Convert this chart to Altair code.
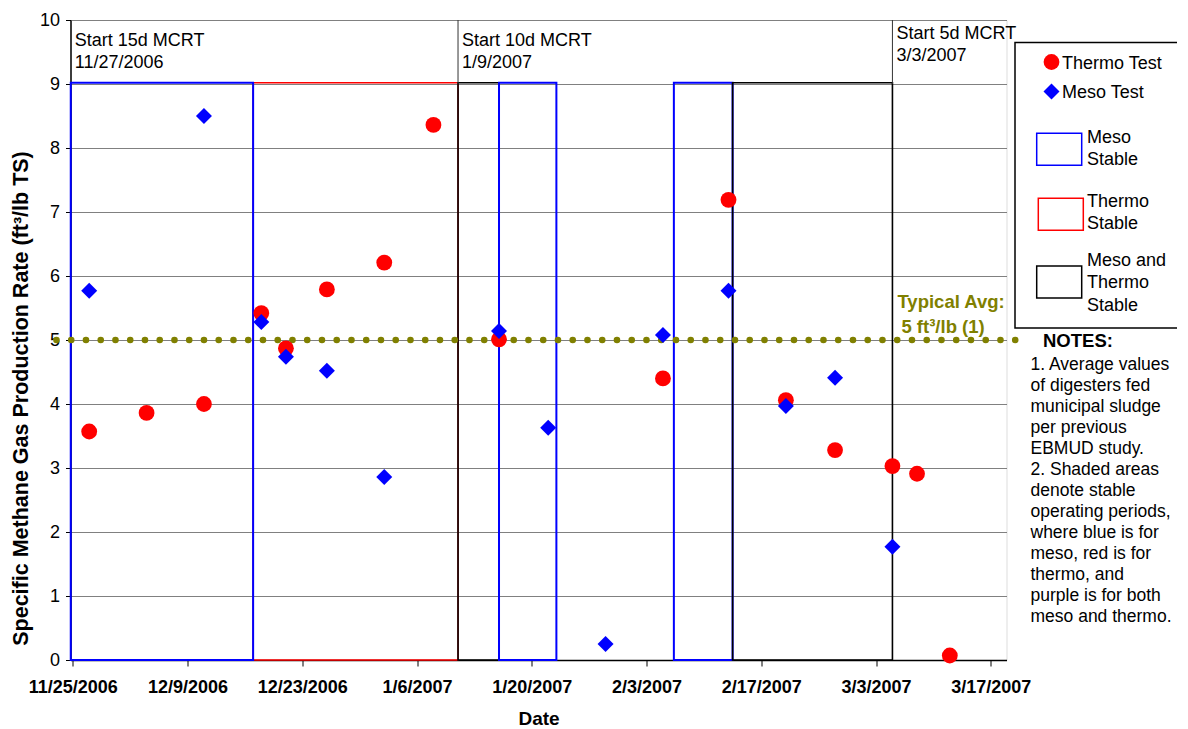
import altair as alt
import pandas as pd

FONT = "Liberation Sans"

# ---------------- data ----------------
thermo_dates = ["2006/11/27", "2006/12/04", "2006/12/11", "2006/12/18", "2006/12/21", "2006/12/26",
                "2007/01/02", "2007/01/08", "2007/01/16", "2007/02/05", "2007/02/13", "2007/02/20",
                "2007/02/26", "2007/03/05", "2007/03/08", "2007/03/12"]
thermo_values = [3.57, 3.86, 4.00, 5.42, 4.87, 5.79, 6.21, 8.36, 5.01, 4.40, 7.19, 4.06, 3.28, 3.03, 2.91, 0.07]

meso_dates = ["2006/11/27", "2006/12/11", "2006/12/18", "2006/12/21", "2006/12/26", "2007/01/02",
              "2007/01/16", "2007/01/22", "2007/01/29", "2007/02/05", "2007/02/13", "2007/02/20",
              "2007/02/26", "2007/03/05"]
meso_values = [5.77, 8.50, 5.28, 4.74, 4.52, 2.86, 5.14, 3.63, 0.25, 5.08, 5.77, 3.97, 4.41, 1.77]

# stable operating periods (drawn in this order: later entries on top)
period_starts = ["2006/12/17 00:00", "2007/01/11 00:00", "2006/11/24 18:00", "2007/01/16 00:00",
                 "2007/02/06 08:00", "2007/02/13 12:00"]
period_ends = ["2007/01/11 00:00", "2007/01/16 00:00", "2006/12/17 00:00", "2007/01/23 00:00",
               "2007/02/13 12:00", "2007/03/05 00:00"]
period_kinds = ["Thermo", "Both", "Meso", "Meso", "Meso", "Both"]
period_top = 9.02

mcrt_dates = ["2006/11/24 18:00", "2007/01/11 00:00", "2007/03/05 00:00"]
mcrt_labels = [["Start 15d MCRT", "11/27/2006"], ["Start 10d MCRT", "1/9/2007"], ["Start 5d MCRT", "3/3/2007"]]
mcrt_divider_dates = ["2007/01/11 00:00", "2007/03/05 00:00"]

typical_avg = 5
typical_span = ["2006/11/23 00:00", "2007/03/20 18:00"]
typical_labels = ["Typical Avg:", "5 ft³/lb (1)"]

tick_dates = ["2006/11/25", "2006/12/09", "2006/12/23", "2007/01/06", "2007/01/20",
              "2007/02/03", "2007/02/17", "2007/03/03", "2007/03/17"]
y_ticks = [0, 1, 2, 3, 4, 5, 6, 7, 8, 9, 10]
x_domain = ["2006/11/24 17:15", "2007/03/18 22:00"]

legend_labels = ["Thermo Test", "Meso Test", ["Meso", "Stable"], ["Thermo", "Stable"],
                 ["Meso and", "Thermo", "Stable"]]
notes_title = "NOTES:"
notes_lines = ["1. Average values", "of digesters fed", "municipal sludge", "per previous",
               "EBMUD study.", "2. Shaded areas", "denote stable", "operating periods,",
               "where blue is for", "meso, red is for", "thermo, and", "purple is for both",
               "meso and thermo."]

y_title = "Specific Methane Gas Production Rate (ft³/lb TS)"
x_title = "Date"

KIND_COLORS = {"Meso": "#0000FF", "Thermo": "#FF0000", "Both": "#000000"}
KIND_WIDTH = {"Meso": 2.0, "Thermo": 1.4, "Both": 1.6}


def dt(s):
    ts = pd.Timestamp(s.replace("/", "-"))
    return alt.DateTime(year=ts.year, month=ts.month, date=ts.day, hours=ts.hour, minutes=ts.minute)


X_SCALE = alt.Scale(domain=[dt(d) for d in x_domain])
Y_SCALE = alt.Scale(domain=[0, 10], nice=False, zero=False)
X_AXIS = alt.Axis(values=[dt(d) for d in tick_dates], format="%-m/%-d/%Y", title=x_title,
                  grid=False, labelFontWeight="bold", labelFontSize=18, labelPadding=12,
                  tickSize=6, titleFontSize=19, titleFontWeight="bold", titlePadding=13,
                  domainColor="#000000", domainWidth=1.5, tickColor="#000000",
                  labelColor="#000000", titleColor="#000000")
Y_AXIS = alt.Axis(values=y_ticks, title=y_title, grid=True, gridColor="#808080", gridWidth=1,
                  labelFontSize=18, labelPadding=6, tickSize=5, titleFontSize=21.5,
                  titleFontWeight="bold", titlePadding=7, titleY=378,
                  domainColor="#000000", domainWidth=1.5,
                  tickColor="#000000", labelColor="#000000", titleColor="#000000")


def xenc(field):
    return alt.X(f"{field}:T", scale=X_SCALE, axis=X_AXIS)


def yenc(field):
    return alt.Y(f"{field}:Q", scale=Y_SCALE, axis=Y_AXIS)


thermo_df = pd.DataFrame({"date": thermo_dates, "value": thermo_values})
meso_df = pd.DataFrame({"date": meso_dates, "value": meso_values})
one = pd.DataFrame({"k": [0]})

# ---------------- plot layers ----------------
rect_layers = []
for s, e, kind in zip(period_starts, period_ends, period_kinds):
    sub = pd.DataFrame({"start": [s], "end": [e], "bottom": [0.0], "top": [period_top]})
    rect_layers.append(
        alt.Chart(sub).mark_rect(fillOpacity=0, fill="white", stroke=KIND_COLORS[kind],
                                 strokeWidth=KIND_WIDTH[kind])
        .encode(x=xenc("start"), x2="end", y=yenc("bottom"), y2="top")
    )

div_df = pd.DataFrame({"date": mcrt_divider_dates, "lo": 9.0, "hi": 10.0})
dividers = alt.Chart(div_df).mark_rule(color="#333333", strokeWidth=1).encode(
    x=xenc("date"), y=yenc("lo"), y2="hi")

mcrt_df = pd.DataFrame({"date": mcrt_dates, "label": mcrt_labels, "y": [9.6, 9.6, 9.71]})
mcrt_text = alt.Chart(mcrt_df).mark_text(
    align="left", baseline="alphabetic", font=FONT, fontSize=18, lineHeight=22.6, dx=4,
    color="#000000").encode(x=xenc("date"), y=yenc("y"), text="label")

avg_df = pd.DataFrame({"start": [typical_span[0]], "end": [typical_span[1]], "v": [typical_avg]})
avg_line = alt.Chart(avg_df).mark_rule(
    color="#808000", strokeWidth=6.5, strokeCap="round", strokeDash=[0.1, 14.65]).encode(
    x=xenc("start"), x2="end", y=yenc("v"))

typ_df = pd.DataFrame({"date": ["2007/03/05 00:00", "2007/03/05 00:00"], "label": typical_labels,
                       "y": [5.5, 5.11]})
typ_text1 = alt.Chart(typ_df.iloc[[0]]).mark_text(
    align="left", baseline="alphabetic", font=FONT, fontSize=18.5, fontWeight="bold", dx=5,
    color="#808000").encode(x=xenc("date"), y=yenc("y"), text="label")
typ_text2 = alt.Chart(typ_df.iloc[[1]]).mark_text(
    align="left", baseline="alphabetic", font=FONT, fontSize=18.5, fontWeight="bold", dx=9,
    color="#808000").encode(x=xenc("date"), y=yenc("y"), text="label")

thermo_pts = alt.Chart(thermo_df).mark_point(
    shape="circle", filled=True, size=250, color="#FF0000", opacity=1, strokeWidth=0).encode(
    x=xenc("date"), y=yenc("value"))
meso_pts = alt.Chart(meso_df).mark_point(
    shape="diamond", filled=True, size=256, color="#0000FF", opacity=1, strokeWidth=0).encode(
    x=xenc("date"), y=yenc("value"))

# ---------------- legend & notes (outside plot) ----------------
leg_box = alt.Chart(one).mark_rect(fill="white", stroke="#000000", strokeWidth=1.5).encode(
    x=alt.value(944.5), x2=alt.value(1200), y=alt.value(22.5), y2=alt.value(308))
leg_circle = alt.Chart(one).mark_point(shape="circle", filled=True, size=250, color="#FF0000",
                                       opacity=1, strokeWidth=0).encode(
    x=alt.value(981), y=alt.value(42))
leg_diamond = alt.Chart(one).mark_point(shape="diamond", filled=True, size=256, color="#0000FF",
                                        opacity=1, strokeWidth=0).encode(
    x=alt.value(981), y=alt.value(71.5))
leg_rects = []
for (x1, y1, kind) in [(966.2, 113.3, "Meso"), (967.8, 178.3, "Thermo"), (966.2, 246, "Both")]:
    leg_rects.append(alt.Chart(one).mark_rect(fillOpacity=0, fill="white", stroke=KIND_COLORS[kind],
                                              strokeWidth=1.5)
                     .encode(x=alt.value(x1), x2=alt.value(x1 + 45), y=alt.value(y1),
                             y2=alt.value(y1 + 32)))
leg_texts = []
for lab, (lx, ly) in zip(legend_labels, [(991.5, 48.5), (991.5, 77.5), (1016.5, 122.5),
                                         (1016.5, 186.5), (1016.5, 245.5)]):
    leg_texts.append(alt.Chart(one).mark_text(
        text=lab, align="left", baseline="alphabetic", font=FONT, fontSize=18, lineHeight=22.6,
        color="#000000").encode(x=alt.value(lx), y=alt.value(ly)))

notes_head = alt.Chart(one).mark_text(
    text=notes_title, align="left", baseline="alphabetic", font=FONT, fontSize=18.5,
    fontWeight="bold", color="#000000").encode(x=alt.value(972.5), y=alt.value(327))
notes_body = alt.Chart(one).mark_text(
    text=notes_lines, align="left", baseline="alphabetic", font=FONT, fontSize=17.5,
    lineHeight=21, color="#000000").encode(x=alt.value(960), y=alt.value(350))

chart = alt.layer(
    *rect_layers, dividers, mcrt_text, avg_line, thermo_pts, meso_pts, typ_text1, typ_text2,
    leg_box, leg_circle, leg_diamond, *leg_rects, *leg_texts, notes_head, notes_body
).properties(
    width=936, height=640,
    autosize=alt.AutoSizeParams(type="none"),
    padding={"left": 62.5, "top": 12, "right": 170, "bottom": 82},
).configure_view(stroke="#808080", strokeWidth=1).configure_axis(
    labelFont=FONT, titleFont=FONT
).configure(background="white")

chart.save("out.html", embed_options={"renderer": "svg", "actions": False})
